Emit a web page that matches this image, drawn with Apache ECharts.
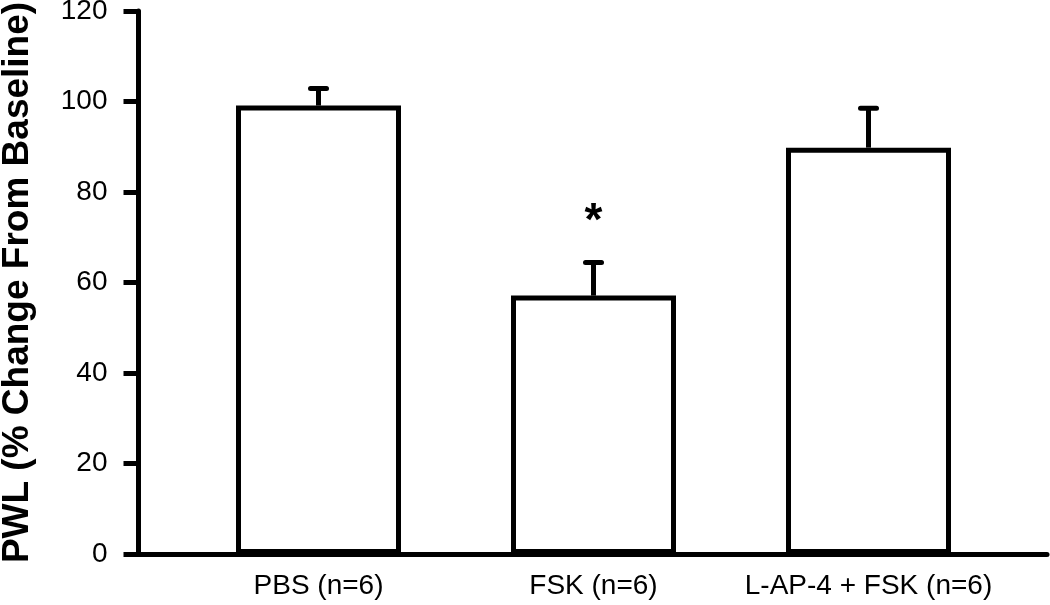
<!DOCTYPE html>
<html>
<head>
<meta charset="utf-8">
<script src="https://cdn.jsdelivr.net/npm/echarts@6/dist/echarts.min.js"></script>
<style>html,body{margin:0;padding:0;background:#fff;}#c{width:1050px;height:605px;}</style>
</head>
<body>
<div id="c"></div>
<script>
const categories = ['PBS (n=6)', 'FSK (n=6)', 'L-AP-4 + FSK (n=6)'];
const means = [99.1, 57.1, 89.8];
const errors = [3.8, 7.3, 8.7];
const marks = ['', '*', ''];
const yTicks = [0, 20, 40, 60, 80, 100, 120];

const FONT = 'Liberation Sans, Arial, sans-serif';
const chart = echarts.init(document.getElementById('c'));
chart.setOption({
  animation: false,
  backgroundColor: '#fff',
  grid: [
    {left: 181, right: 44, top: 11, bottom: 51, containLabel: false, outerBoundsMode: 'none'},
    {left: 138.5, right: 3, top: 11, bottom: 51, containLabel: false, outerBoundsMode: 'none'}
  ],
  xAxis: [
    {type: 'category', gridIndex: 0, data: categories,
     axisLine: {show: false}, axisTick: {show: false},
     axisLabel: {interval: 0, color: '#000', fontSize: 28, fontFamily: FONT, margin: 18}},
    {type: 'value', gridIndex: 1, min: 0, max: 1,
     axisLine: {show: true, lineStyle: {color: '#000', width: 5}},
     axisTick: {show: false}, axisLabel: {show: false}, splitLine: {show: false}}
  ],
  yAxis: [
    {type: 'value', gridIndex: 0, min: yTicks[0], max: yTicks[yTicks.length - 1], interval: 20,
     show: false, splitLine: {show: false}},
    {type: 'value', gridIndex: 1, min: yTicks[0], max: yTicks[yTicks.length - 1], interval: 20,
     name: 'PWL (% Change From Baseline)', nameLocation: 'middle', nameGap: 102,
     nameTextStyle: {color: '#000', fontSize: 37, fontWeight: 'bold', fontFamily: FONT},
     axisLine: {show: true, lineStyle: {color: '#000', width: 5}},
     axisTick: {show: true, inside: false, length: 15, lineStyle: {color: '#000', width: 5}},
     axisLabel: {color: '#000', fontSize: 28, fontFamily: FONT, margin: 31},
     splitLine: {show: false}}
  ],
  series: [
    {type: 'bar', xAxisIndex: 0, yAxisIndex: 0, data: means, barWidth: '60%',
     itemStyle: {color: '#fff', borderColor: '#000', borderWidth: 5}, z: 2},
    {type: 'custom', xAxisIndex: 0, yAxisIndex: 0, z: 3,
     data: means.map((m, i) => [i, m, m + errors[i], marks[i]]),
     renderItem: function (params, api) {
       const base = api.coord([api.value(0), api.value(1)]);
       const top = api.coord([api.value(0), api.value(2)]);
       const children = [
         {type: 'line', shape: {x1: base[0], y1: base[1], x2: top[0], y2: top[1]},
          style: {stroke: '#000', lineWidth: 5}},
         {type: 'line', shape: {x1: top[0] - 8, y1: top[1], x2: top[0] + 8, y2: top[1]},
          style: {stroke: '#000', lineWidth: 5, lineCap: 'round'}}
       ];
       const mk = marks[params.dataIndex];
       if (mk) {
         children.push({type: 'text', x: top[0], y: top[1] - 40,
           style: {text: mk, fill: '#000', font: 'bold 46px ' + FONT, align: 'center', verticalAlign: 'middle'}});
       }
       return {type: 'group', children: children};
     }}
  ]
});
</script>
</body>
</html>
